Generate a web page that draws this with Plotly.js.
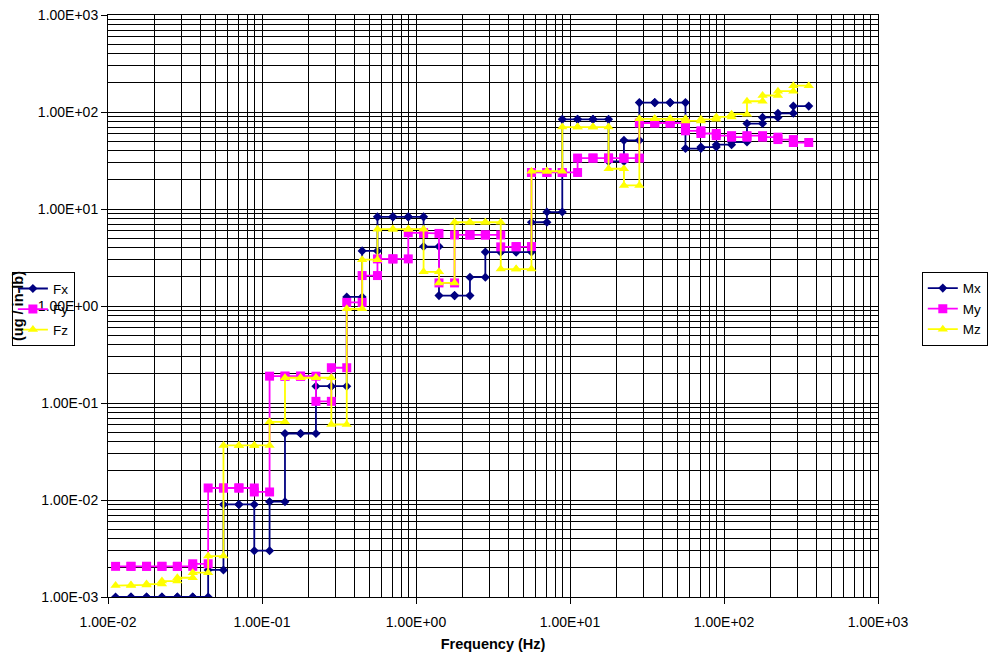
<!DOCTYPE html>
<html>
<head>
<meta charset="utf-8">
<script src="https://cdn.plot.ly/plotly-3.0.1.min.js"></script>
<style>html,body{margin:0;padding:0;background:#fff;}#chart{width:988px;height:655px;}</style>
</head>
<body>
<div id="chart"></div>
<script>
// Band edge frequencies (Hz) - 1/3 octave band edges
const freqEdges = [0.0112, 0.0141, 0.0178, 0.0224, 0.0282, 0.0355, 0.0447, 0.0562, 0.0708, 0.0891,
  0.112, 0.141, 0.178, 0.224, 0.282, 0.355, 0.447, 0.562, 0.708, 0.891,
  1.12, 1.41, 1.78, 2.24, 2.82, 3.55, 4.47, 5.62, 7.08, 8.91,
  11.2, 14.1, 17.8, 22.4, 28.2, 35.5, 44.7, 56.2, 70.8, 89.1,
  112, 141, 178, 224, 282, 355];

// Band levels (ug / in-lb), one value per band
const MxVals = [0.001, 0.001, 0.001, 0.001, 0.001, 0.001, 0.0019, 0.009, 0.009, 0.003,
  0.0096, 0.0485, 0.0485, 0.149, 0.149, 1.24, 3.7, 8.3, 8.3, 8.3,
  4.1, 1.28, 1.28, 1.98, 3.6, 3.6, 3.6, 7.3, 9.3, 84,
  84, 84, 31, 51, 125, 125, 125, 42, 43.5, 46,
  49, 76, 88, 97, 115];
const MyVals = [0.00207, 0.00207, 0.00207, 0.00207, 0.00207, 0.0022, 0.0133, 0.0133, 0.0133, 0.0121,
  0.189, 0.189, 0.189, 0.104, 0.231, 1.09, 2.06, 3.06, 3.06, 5.7,
  5.6, 1.73, 5.4, 5.4, 5.4, 4.07, 4.1, 23.8, 23.8, 23.8,
  33.5, 33.5, 33.5, 33.5, 77, 77, 77, 64, 60, 57,
  55, 57, 55, 52, 48.5];
const MzVals = [0.00131, 0.00133, 0.00136, 0.00146, 0.00158, 0.00178, 0.00264, 0.0365, 0.0365, 0.0365,
  0.064, 0.182, 0.182, 0.182, 0.060, 0.935, 3.0, 6.2, 6.2, 6.2,
  2.25, 1.73, 7.3, 7.3, 7.3, 2.4, 2.4, 24.5, 24.5, 70,
  70, 70, 26, 17.5, 85, 85, 85, 81, 84, 89,
  95, 129, 148, 164, 187];

const seriesNames = ['Mx', 'My', 'Mz'];
const legendOnlyNames = ['Fx', 'Fy', 'Fz'];
const xTickVals = [0.01, 0.1, 1, 10, 100, 1000];
const xTickText = ['1.00E-02', '1.00E-01', '1.00E+00', '1.00E+01', '1.00E+02', '1.00E+03'];
const yTickVals = [0.001, 0.01, 0.1, 1, 10, 100, 1000];
const yTickText = ['1.00E-03', '1.00E-02', '1.00E-01', '1.00E+00', '1.00E+01', '1.00E+02', '1.00E+03'];

function steps(edges, vals) {
  const x = [], y = [];
  for (let i = 0; i < vals.length; i++) {
    x.push(edges[i], edges[i + 1]);
    y.push(vals[i], vals[i]);
  }
  return {x, y};
}

const styles = [
  {color: '#000080', symbol: 'diamond', size: 7},
  {color: '#FF00FF', symbol: 'square', size: 9},
  {color: '#FFFF00', symbol: 'triangle-up', size: 9}
];
const allVals = [MxVals, MyVals, MzVals];
const FONT = 'Liberation Sans, Arial, sans-serif';

const traces = [];
allVals.forEach((vals, i) => {
  const s = steps(freqEdges, vals);
  traces.push({
    type: 'scatter', mode: 'lines+markers', name: seriesNames[i],
    x: s.x, y: s.y, legend: 'legend',
    line: {color: styles[i].color, width: 1.8},
    marker: {color: styles[i].color, symbol: styles[i].symbol, size: styles[i].size, line: {width: 0}}
  });
});
legendOnlyNames.forEach((n, i) => {
  traces.push({
    type: 'scatter', mode: 'lines+markers', name: n,
    x: [null], y: [null], legend: 'legend2',
    line: {color: styles[i].color, width: 1.8},
    marker: {color: styles[i].color, symbol: styles[i].symbol, size: styles[i].size, line: {width: 0}}
  });
});

const gridCommon = {
  showgrid: true, gridcolor: '#000', gridwidth: 1,
  showline: true, mirror: true, linecolor: '#000', linewidth: 1,
  ticks: 'outside', ticklen: 6, tickcolor: '#000', zeroline: false,
  tickfont: {family: FONT, size: 14, color: '#000'},
  minor: {dtick: 'D1', showgrid: true, gridcolor: '#000', gridwidth: 1}
};

const layout = {
  width: 988, height: 655, autosize: false,
  margin: {l: 108, r: 110, t: 15, b: 58},
  paper_bgcolor: '#fff', plot_bgcolor: '#fff',
  font: {family: FONT, size: 14, color: '#000'},
  showlegend: true,
  xaxis: Object.assign({}, gridCommon, {
    type: 'log', range: [-2, 3], tickmode: 'array', tickvals: xTickVals, ticktext: xTickText,
    ticklabelstandoff: 6,
    title: {text: '<b>Frequency (Hz)</b>', font: {family: FONT, size: 14.5, color: '#000'}, standoff: 10}
  }),
  yaxis: Object.assign({}, gridCommon, {
    type: 'log', range: [-3, 3], tickmode: 'array', tickvals: yTickVals, ticktext: yTickText,
    title: {text: '<b>(ug / in-lb)</b>', font: {family: FONT, size: 14.5, color: '#000'}, standoff: 10}
  }),
  legend: {
    xref: 'container', yref: 'container',
    x: 0.933, xanchor: 'left', y: 0.585, yanchor: 'top',
    bgcolor: '#fff', bordercolor: '#000', borderwidth: 1,
    font: {family: FONT, size: 13.5, color: '#000'}, tracegroupgap: 0
  },
  legend2: {
    x: -0.043, xanchor: 'right', y: 0.558, yanchor: 'top',
    bgcolor: 'rgba(0,0,0,0)', bordercolor: '#000', borderwidth: 1,
    font: {family: FONT, size: 13.5, color: '#000'}, tracegroupgap: 0
  }
};

Plotly.newPlot('chart', traces, layout, {displayModeBar: false, staticPlot: true});
</script>
</body>
</html>
